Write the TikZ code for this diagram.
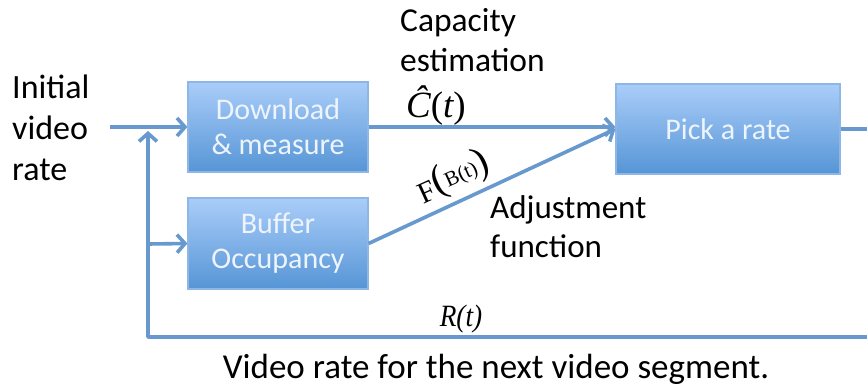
\documentclass[tikz,border=0pt]{standalone}
\usepackage{fontspec}
\setmainfont{Carlito}
\newfontfamily\tnr{Liberation Serif}
\usetikzlibrary{arrows.meta}
\definecolor{lineblue}{HTML}{6799CE}
\definecolor{boxtop}{HTML}{AACDF9}
\definecolor{boxbot}{HTML}{5695D6}
\definecolor{boxedge}{HTML}{8EB7E8}
\definecolor{boxtext}{HTML}{EEF4FC}
\tikzset{
  blk/.style={draw=boxedge, line width=1.2pt, top color=boxtop, bottom color=boxbot,
    text=boxtext, font=\fontsize{30}{35}\selectfont, align=center, inner sep=0pt},
  conn/.style={draw=lineblue, line width=3.6pt, line join=round},
  arr/.style={conn, -{Straight Barb[length=8pt,width=18pt,line width=3.6pt]}},
  lbl/.style={text=black, font=\fontsize{34}{41}\selectfont, align=left, inner sep=0pt}
}
\begin{document}
\begin{tikzpicture}[x=1pt,y=1pt]
\clip (0,0) rectangle (867,-388);
\useasboundingbox (0,0) rectangle (867,-388);
% boxes
\node[blk, minimum width=180pt, minimum height=90pt] (dl) at (278,-127) {Download\\\& measure};
\node[blk, minimum width=180pt, minimum height=91pt] (buf) at (278,-243.5) {Buffer\\Occupancy};
\node[blk, minimum width=224pt, minimum height=90pt] (pick) at (728,-129) {Pick a rate};
% coordinates
\coordinate (init) at (110,-127);
\coordinate (jn) at (148,-131);
\coordinate (br) at (148,-244);
\coordinate (fbR) at (890,-337);
% labels
\node[lbl, anchor=north west] (ivr) at (12,-75) {Initial\\video\\rate};
\node[lbl, anchor=north west, font=\fontsize{33.5}{40}\selectfont] (cap) at (400,-8) {Capacity\\estimation};
\node[anchor=base west, inner sep=0pt, font=\tnr\fontsize{37}{37}\selectfont] (ct) at (406,-117) {\itshape Ĉ\upshape(\itshape t\upshape)};
\node[rotate=24.5, inner sep=0pt, font=\tnr\fontsize{30}{30}\selectfont] (fb) at (453,-177) {F\raisebox{3pt}{\fontsize{40}{40}\selectfont(}\raisebox{5pt}{\fontsize{21}{21}\selectfont B(t)}\raisebox{3pt}{\fontsize{40}{40}\selectfont)}};
\node[lbl, anchor=north west, font=\fontsize{33}{39}\selectfont] (adj) at (490,-195) {Adjustment\\function};
\node[anchor=base, inner sep=0pt, font=\tnr\itshape\fontsize{31}{31}\selectfont, xscale=0.88] (rt) at (461,-326) {R(t)};
\node[lbl, anchor=base, font=\fontsize{35}{40}\selectfont] (vr) at (496,-378) {Video rate for the next video segment.};
% connectors
\draw[arr] (init) -- (dl.west);
\draw[arr] (br) -- (buf.west);
\draw[arr] (dl.east) -- (dl.east -| pick.west);
\draw[arr] (buf.east) -- (pick.west);
\draw[arr] (pick.east) -| (fbR) -| (jn);
\end{tikzpicture}
\end{document}
